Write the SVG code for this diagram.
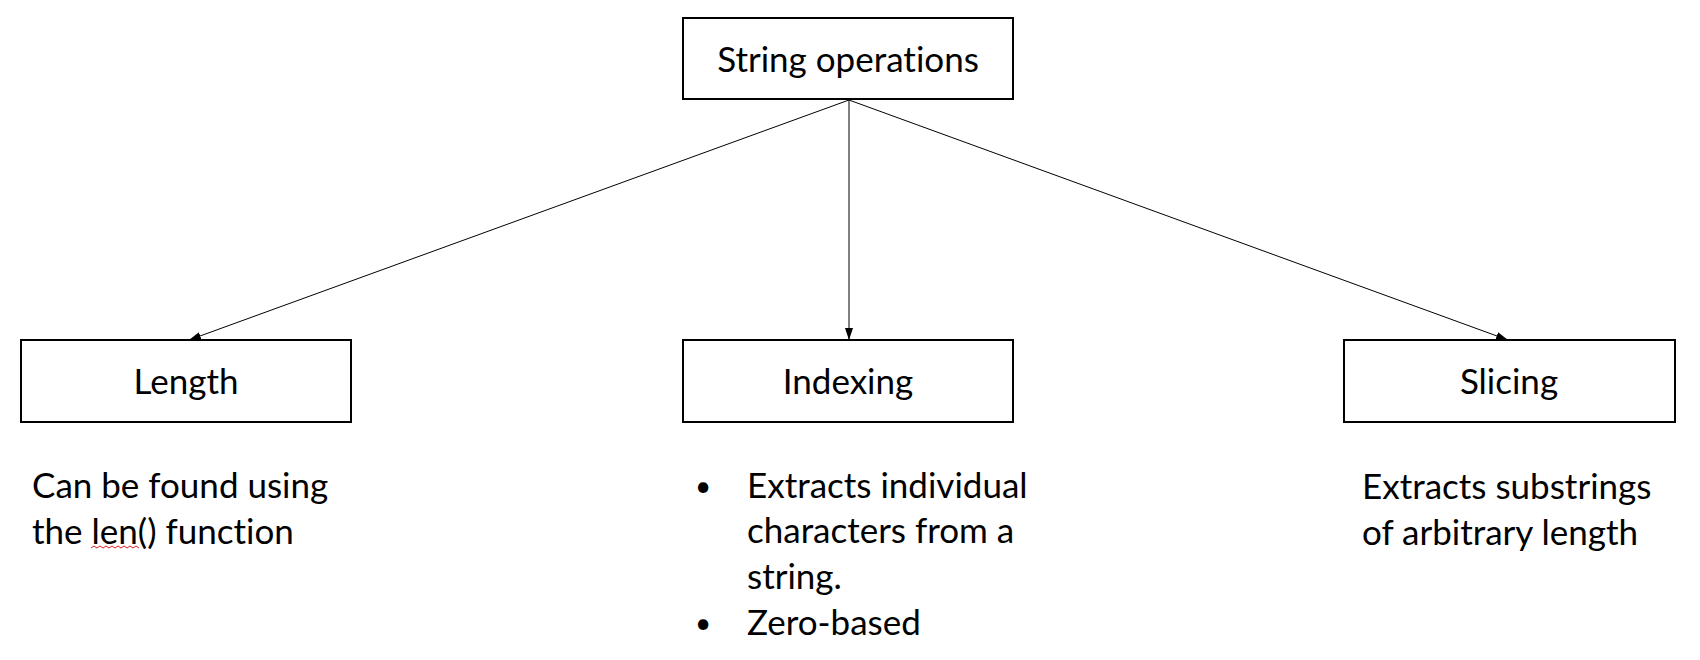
<svg xmlns="http://www.w3.org/2000/svg" width="1700" height="660" viewBox="0 0 1700 660">
<style>
.box{fill:#fff;stroke:#000;stroke-width:2}
.lbl{font-family:Lato,"Open Sans","Liberation Sans",sans-serif;font-size:35px;fill:#000;font-variant-ligatures:none;font-feature-settings:"liga" 0,"dlig" 0}
.c{text-anchor:middle}
.bul{font-size:28px}
.edge{stroke:#000;stroke-width:1;fill:none}
</style>
<defs>
<marker id="ah" viewBox="0 0 12 8" refX="12" refY="4" markerWidth="12" markerHeight="8" markerUnits="userSpaceOnUse" orient="auto">
<path d="M0,0 L12,4 L0,8 Z" fill="#000"/>
</marker>
</defs>
<rect width="1700" height="660" fill="#fff"/>
<g id="connectors">
<line class="edge" x1="849" y1="100" x2="189" y2="340" marker-end="url(#ah)"/>
<line class="edge" x1="849" y1="100" x2="849" y2="340" marker-end="url(#ah)"/>
<line class="edge" x1="849" y1="100" x2="1508" y2="340" marker-end="url(#ah)"/>
</g>
<g id="root">
<rect class="box" x="683" y="18" width="330" height="81"/>
<text class="lbl c" x="848" y="72">String operations</text>
</g>
<g id="length">
<rect class="box" x="21" y="340" width="330" height="82"/>
<text class="lbl c" x="186" y="394">Length</text>
</g>
<g id="indexing">
<rect class="box" x="683" y="340" width="330" height="82"/>
<text class="lbl c" x="848" y="394">Indexing</text>
</g>
<g id="slicing">
<rect class="box" x="1344" y="340" width="331" height="82"/>
<text class="lbl c" x="1509" y="394">Slicing</text>
</g>
<g id="length-desc">
<text class="lbl" x="32" y="498">Can be found using</text>
<text class="lbl" x="32" y="544">the len() function</text>
<path d="M91,548 l3,-2 l3,2 l3,-2 l3,2 l3,-2 l3,2 l3,-2 l3,2 l3,-2 l3,2 l3,-2 l3,2 l3,-2 l3,2 l3,-2 l3,2" fill="none" stroke="#e02020" stroke-width="1"/>
</g>
<g id="indexing-desc">
<text class="lbl c bul" x="703" y="496">•</text>
<text class="lbl" x="747" y="498">Extracts individual</text>
<text class="lbl" x="747" y="543">characters from a</text>
<text class="lbl" x="747" y="589">string.</text>
<text class="lbl c bul" x="703" y="633">•</text>
<text class="lbl" x="747" y="635">Zero-based</text>
</g>
<g id="slicing-desc">
<text class="lbl" x="1362" y="499">Extracts substrings</text>
<text class="lbl" x="1362" y="545">of arbitrary length</text>
</g>
</svg>
